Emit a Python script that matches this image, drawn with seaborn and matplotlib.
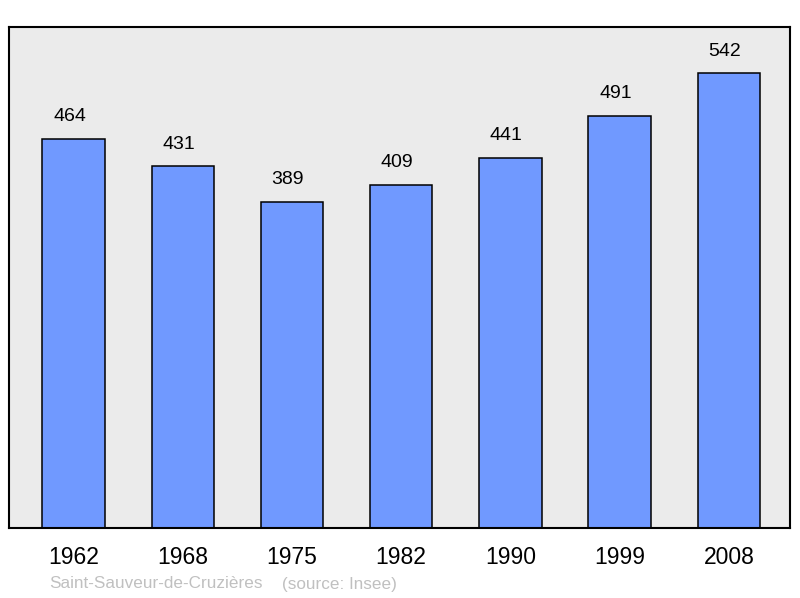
import matplotlib
matplotlib.use("Agg")
import matplotlib.pyplot as plt
import seaborn as sns
import pandas as pd

years = ["1962", "1968", "1975", "1982", "1990", "1999", "2008"]
population = [464, 431, 389, 409, 441, 491, 542]
commune = "Saint-Sauveur-de-Cruzières"
source = "(source: Insee)"

sns.set_style("white")
plt.rcParams['font.family'] = ['Liberation Sans', 'DejaVu Sans']

df = pd.DataFrame({"year": years, "pop": population})

fig = plt.figure(figsize=(8, 5.98), dpi=100)
ax = fig.add_axes([9/800, 70/598, 781/800, 501/598])
ax.set_facecolor("#ebebeb")

sns.barplot(data=df, x="year", y="pop", order=years, color="#7099ff",
            saturation=1, edgecolor="black", linewidth=1.1, width=0.57, ax=ax)

for i, v in enumerate(population):
    ax.annotate(str(v), (i, v), xytext=(-4, 22), textcoords="offset pixels",
                ha="center", va="center", fontsize=14, color="black")

ax.set_xlim(-0.59, 6.56)
ax.set_ylim(0, 597)
ax.set_yticks([])
ax.set_xlabel("")
ax.set_ylabel("")
ax.tick_params(axis="x", length=0, pad=13, labelsize=16.5, colors="black")
for s in ax.spines.values():
    s.set_visible(True)
    s.set_color("black")
    s.set_linewidth(1.5)

fig.text(49/800, 1 - 584/598, commune, ha="left", va="center",
         fontsize=12.3, color="#c0c0c0")
fig.text(282/800, 1 - 584/598, source, ha="left", va="center",
         fontsize=12.3, color="#c0c0c0")

fig.savefig("out.png", dpi=100)
